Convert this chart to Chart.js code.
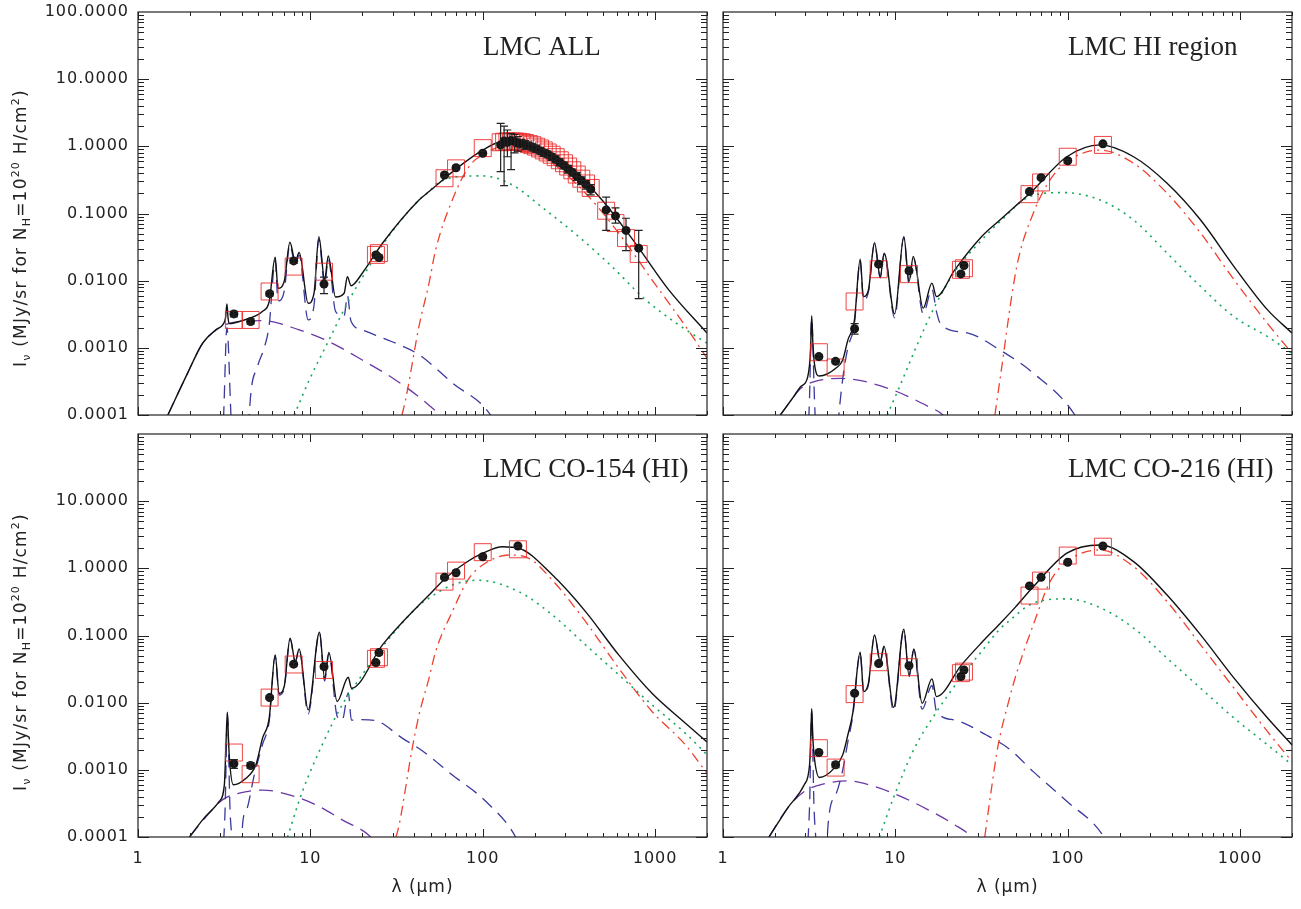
<!DOCTYPE html>
<html>
<head>
<meta charset="utf-8">
<script src="https://cdn.jsdelivr.net/npm/chart.js@4.4.1/dist/chart.umd.min.js"></script>
<style>
body { margin:0; background:#fff; }
#wrap { position:relative; width:1301px; height:909px; overflow:hidden; }
.panel { position:absolute; }
</style>
</head>
<body>
<div id="wrap">
  <div class="panel" style="left:0;top:0"><canvas id="cAll" width="715" height="425"></canvas></div>
  <div class="panel" style="left:715px;top:0"><canvas id="cHi" width="586" height="425"></canvas></div>
  <div class="panel" style="left:0;top:425px"><canvas id="cCoA" width="715" height="484"></canvas></div>
  <div class="panel" style="left:715px;top:425px"><canvas id="cCoB" width="586" height="484"></canvas></div>
</div>
<script>
// wavelengths in micron, intensities in MJy/sr for NH=1e20 H/cm2
const bandX = [3.6, 4.5, 5.8, 8.0, 12, 24, 25, 60, 70, 100, 160];

// ---- LMC ALL ----
const allTotal = [[1.49,1e-4],[1.94,4.2e-4],[2.37,1.17e-3],[2.83,1.85e-3],[3.1,2.2e-3],[3.22,2.8e-3],[3.28,4.5e-3],[3.33,2.8e-3],[3.39,2.3e-3],[4.04,2.55e-3],[4.94,3.1e-3],[5.28,3.5e-3],[5.77,4.9e-3],[6.25,0.0224],[6.49,7.7e-3],[7.05,9.7e-3],[7.61,0.0374],[8.17,0.0192],[8.61,0.0262],[9.71,4.6e-3],[10.5,6.5e-3],[11.2,0.0453],[12.1,0.0103],[12.7,0.0234],[14.0,5.7e-3],[15.7,6.5e-3],[16.4,0.0115],[17.2,8.4e-3],[20,0.0129],[26.2,0.0361],[42.7,0.159],[48.8,0.212],[72.8,0.499],[100,0.88],[130,1.17],[162,1.17],[203,0.99],[316,0.50],[492,0.159],[769,0.036],[1200,7.3e-3],[2000,1.66e-3]];
const allPah = [[3.0,1e-5],[3.14,1e-4],[3.28,2.0e-3],[3.46,1e-4],[3.6,1e-5],[4.3,1e-5],[4.42,1e-4],[4.94,5.3e-4],[5.4,1.0e-3],[5.77,2.2e-3],[6.25,0.0198],[6.49,5e-3],[7.05,7e-3],[7.61,0.034],[8.17,0.017],[8.61,0.024],[9.71,2.6e-3],[10.5,4.3e-3],[11.2,0.042],[12.1,8.5e-3],[12.7,0.021],[14.0,3.5e-3],[15.7,3e-3],[16.4,6e-3],[17.2,2.5e-3],[20,1.85e-3],[26.2,1.4e-3],[31.3,1.17e-3],[42.7,7.9e-4],[66.6,3.0e-4],[111,1e-4],[150,2e-5]];
const allCont = [[1.49,1e-4],[1.94,4.2e-4],[2.37,1.17e-3],[2.83,1.85e-3],[3.1,2.15e-3],[4.04,2.5e-3],[5.28,2.55e-3],[8.61,1.85e-3],[12.8,1.24e-3],[20,6.6e-4],[31.3,3.3e-4],[48.8,1.4e-4],[55.7,1e-4],[65,5e-5]];
const allVsg = [[8.06,1e-4],[9.84,3.3e-4],[12.8,1.3e-3],[16.8,5.2e-3],[21.9,0.0162],[26.2,0.034],[42.7,0.16],[48.8,0.21],[53.3,0.27],[72.8,0.354],[100,0.363],[148,0.267],[231,0.113],[360,0.0453],[562,0.0162],[879,5.2e-3],[1370,2.2e-3],[2000,1.17e-3]];
const allBg = [[34,1e-4],[35.7,1.7e-4],[42.7,2.1e-3],[48.8,9.2e-3],[53.3,0.0287],[66.6,0.159],[83.2,0.50],[104,0.79],[130,0.99],[162,0.99],[253,0.56],[395,0.20],[615,0.051],[959,0.0103],[1500,2.1e-3],[2000,7.0e-4]];
const allObs = [3.2e-3,2.46e-3,6.4e-3,0.0197,8.9e-3,0.0242,0.0221,0.375,0.48,0.79];
const allMod = [2.6e-3,2.6e-3,6.9e-3,0.0162,0.0136,0.0242,0.0257,0.335,0.47,0.94];
const allErr = [[2.9e-3,3.5e-3],[2.25e-3,2.7e-3],[5.9e-3,6.9e-3],[0.018,0.0215],[6.4e-3,0.0113],[0.0225,0.026],[0.0205,0.0238],[0.35,0.40],[0.45,0.51],[0.74,0.84]];
const firasX = [127,133,139,146,153,160,168,176,185,194,204,215,226,238,251,265,280,296,313,331,351,373,397,423,520,589,678,803];
const firasObs = [1.05,1.20,1.15,1.22,1.18,1.12,1.10,1.05,1.02,0.97,0.92,0.86,0.80,0.76,0.70,0.64,0.58,0.52,0.46,0.41,0.36,0.31,0.27,0.23,0.113,0.092,0.056,0.0305];
const firasMod = [1.15,1.17,1.18,1.18,1.18,1.17,1.15,1.12,1.08,1.04,0.99,0.93,0.87,0.81,0.75,0.69,0.62,0.56,0.50,0.44,0.38,0.33,0.28,0.24,0.11,0.072,0.043,0.025];
const firasErr = [[0.42,2.2],[0.26,2.0],[0.70,1.75],[0.45,1.55],[0.80,1.50],[0.85,1.40],[0.95,1.27],[0.90,1.22],[0.90,1.15],[0.86,1.09],[0.82,1.03],[0.77,0.96],[0.71,0.90],[0.68,0.85],[0.62,0.78],[0.57,0.72],[0.51,0.65],[0.46,0.58],[0.40,0.52],[0.36,0.46],[0.31,0.41],[0.27,0.35],[0.23,0.31],[0.19,0.27],[0.056,0.175],[0.072,0.121],[0.028,0.085],[0.0054,0.056]];

// ---- LMC HI region ----
const hiTotal = [[2.15,1e-4],[2.5,1.7e-4],[2.83,2.65e-4],[3.1,3.7e-4],[3.22,9e-4],[3.27,3.0e-3],[3.32,1.2e-3],[3.39,5.9e-4],[3.62,3.8e-4],[4.53,5.0e-4],[4.95,6.6e-4],[5.3,1.3e-3],[5.79,2.6e-3],[6.25,0.0209],[6.52,5.8e-3],[6.98,7.3e-3],[7.57,0.0369],[8.17,0.0115],[8.61,0.0257],[9.9,3.2e-3],[11.2,0.0453],[12.0,9.7e-3],[12.7,0.0229],[14.5,3.9e-3],[16.3,9.2e-3],[17.3,5.8e-3],[22.1,0.0145],[31.6,0.045],[40.4,0.080],[49.4,0.127],[60.4,0.20],[98.8,0.70],[154,1.05],[241,0.70],[377,0.282],[590,0.080],[922,0.0162],[1443,3.67e-3],[2000,1.66e-3]];
const hiPah = [[3.0,1e-5],[3.17,1.5e-4],[3.27,2.7e-3],[3.4,1.5e-4],[3.6,1e-5],[4.4,1e-5],[4.7,1e-4],[5.0,4.2e-4],[5.3,1.0e-3],[5.79,2.3e-3],[6.25,0.020],[6.52,5.2e-3],[6.98,6.8e-3],[7.57,0.036],[8.17,0.011],[8.61,0.025],[9.9,2.8e-3],[11.2,0.044],[12.0,9.0e-3],[12.7,0.022],[14.5,3.2e-3],[16.3,7.5e-3],[17.3,3.5e-3],[18.4,2.2e-3],[26.4,1.66e-3],[40.4,9.3e-4],[63.1,4.2e-4],[110,1e-4],[150,2e-5]];
const hiCont = [[2.15,1e-4],[2.5,1.7e-4],[2.83,2.5e-4],[3.39,3.15e-4],[4.84,3.5e-4],[9.06,2.5e-4],[15.5,1.34e-4],[18.9,1e-4],[22,6e-5]];
const hiVsg = [[8.97,1e-4],[10.8,3e-4],[13.5,1.17e-3],[16.9,4.1e-3],[22.1,0.0136],[31.6,0.040],[40.4,0.0757],[60.4,0.179],[94.2,0.205],[154,0.159],[241,0.080],[377,0.0257],[590,8.2e-3],[922,2.9e-3],[1443,1.47e-3],[2000,8.3e-4]];
const hiBg = [[37.8,1e-4],[40.4,3.3e-4],[50.6,0.0162],[63.1,0.101],[79,0.316],[98.8,0.59],[154,0.88],[241,0.56],[377,0.20],[590,0.051],[922,0.0103],[1443,2.3e-3],[2000,8.3e-4]];
const hiObs = [7.4e-4,6.3e-4,1.92e-3,0.0176,0.014,0.0126,0.0168,0.212,0.342,0.61,1.09];
const hiMod = [8.6e-4,5.1e-4,4.9e-3,0.0148,0.0125,0.0145,0.0153,0.194,0.29,0.70,1.05];
const hiErr = [[6.9e-4,7.9e-4],[5.9e-4,6.7e-4],[1.6e-3,2.3e-3],[0.0165,0.0188],[0.013,0.015],[0.0118,0.0134],[0.0157,0.018],[0.2,0.225],[0.325,0.36],[0.58,0.64],[1.04,1.14]];

// ---- LMC CO-154 (HI) ----
const coATotal = [[1.99,1e-4],[2.37,1.8e-4],[2.96,3.4e-4],[3.17,6.0e-4],[3.24,2.5e-3],[3.30,7.2e-3],[3.35,2.8e-3],[3.39,1.5e-3],[3.57,6.0e-4],[4.23,7.5e-4],[4.83,1.19e-3],[5.28,2.97e-3],[5.77,5.9e-3],[6.25,0.0514],[6.59,0.0138],[7.05,0.0174],[7.63,0.091],[8.17,0.041],[8.61,0.063],[9.71,7.8e-3],[11.3,0.112],[12.1,0.0232],[12.8,0.0557],[14.3,0.0104],[16.6,0.0239],[17.3,0.0164],[26.2,0.0725],[42.7,0.285],[48.8,0.40],[61,0.72],[80,1.22],[100,1.68],[130,2.10],[162,1.99],[253,0.80],[395,0.227],[615,0.0514],[959,0.0138],[1500,4.95e-3],[2000,2.6e-3]];
const coAPah = [[3.0,1e-5],[3.15,1e-4],[3.2,2.5e-4],[3.30,6.8e-3],[3.42,2.5e-4],[3.5,1e-4],[3.7,1e-5],[3.95,1e-5],[4.04,1.5e-4],[4.23,2.4e-4],[4.73,8.4e-4],[5.28,2.4e-3],[5.77,5.3e-3],[6.25,0.050],[6.59,0.013],[7.05,0.0165],[7.63,0.089],[8.17,0.040],[8.61,0.062],[9.71,6.8e-3],[11.3,0.11],[12.1,0.021],[12.8,0.053],[14.3,6.3e-3],[15.3,5.5e-3],[16.6,0.014],[17.3,5.5e-3],[19.5,5.6e-3],[23.9,5.4e-3],[34.1,2.97e-3],[44.6,1.92e-3],[66.6,8.4e-4],[104,3.4e-4],[155,1e-4],[200,2e-5]];
const coACont = [[1.99,1e-4],[2.48,2.0e-4],[3.10,3.6e-4],[3.87,4.5e-4],[5.28,5.0e-4],[7.54,4.25e-4],[10.8,3.0e-4],[15.3,1.8e-4],[21.9,1.05e-4],[26,6e-5]];
const coAVsg = [[7.37,1e-4],[9.0,4.8e-4],[11.7,2.35e-3],[15.3,9.3e-3],[20,0.026],[26.2,0.068],[42.7,0.28],[48.8,0.36],[66.6,0.566],[93.9,0.665],[162,0.45],[253,0.203],[395,0.0725],[615,0.026],[959,9.3e-3],[1500,3.5e-3],[2000,1.67e-3]];
const coABg = [[31.4,1e-4],[32.7,1.5e-4],[39,2.1e-3],[42.7,6.6e-3],[48.8,0.0232],[53.3,0.0577],[66.6,0.227],[83.2,0.71],[104,1.2],[141,1.58],[185,1.41],[253,0.67],[395,0.161],[615,0.0326],[959,7.4e-3],[1500,2.35e-3],[2000,8.9e-4]];
const coAObs = [1.23e-3,1.16e-3,0.0119,0.0374,0.0344,0.0395,0.0557,0.735,0.86,1.49,2.15];
const coAMod = [1.81e-3,8.6e-4,0.0119,0.037,0.0307,0.0449,0.0475,0.634,0.925,1.74,1.92];
const coAErr = [[1.05e-3,1.42e-3],[1.05e-3,1.28e-3],[0.0112,0.0127],[0.035,0.040],[0.032,0.037],[0.037,0.042],[0.052,0.059],[0.69,0.78],[0.81,0.91],[1.42,1.57],[2.05,2.26]];

// ---- LMC CO-216 (HI) ----
const coBTotal = [[1.85,1e-4],[2.37,2.7e-4],[2.96,6.0e-4],[3.18,1.2e-3],[3.23,3.0e-3],[3.27,8.1e-3],[3.32,3.0e-3],[3.39,1.5e-3],[3.62,7.7e-4],[4.42,1.06e-3],[4.95,1.67e-3],[5.30,3.3e-3],[5.66,7.0e-3],[6.25,0.0563],[6.55,0.0146],[6.98,0.0195],[7.57,0.102],[8.17,0.041],[8.59,0.0693],[9.77,8.5e-3],[11.2,0.124],[12.0,0.0253],[12.8,0.063],[14.3,9.8e-3],[16.3,0.0226],[17.3,0.0123],[24.2,0.0365],[31.6,0.078],[40.4,0.15],[49.4,0.26],[63.1,0.53],[98.8,1.68],[154,2.23],[241,1.26],[377,0.40],[590,0.102],[922,0.0232],[1443,5.9e-3],[2000,2.35e-3]];
const coBPah = [[3.0,1e-5],[3.12,1e-4],[3.18,3e-4],[3.27,7.5e-3],[3.37,3e-4],[3.45,1e-4],[3.7,1e-5],[3.95,1e-5],[4.05,1.3e-4],[4.5,4.2e-4],[4.95,1.0e-3],[5.30,2.6e-3],[5.66,6.3e-3],[6.25,0.055],[6.55,0.0138],[6.98,0.0187],[7.57,0.10],[8.17,0.040],[8.59,0.068],[9.77,7.5e-3],[11.2,0.122],[12.0,0.024],[12.8,0.061],[14.3,8e-3],[16.3,0.018],[17.3,7.5e-3],[22.1,5.5e-3],[33.7,3.3e-3],[46.3,2.0e-3],[63.1,9.4e-4],[98.8,3.4e-4],[162,1e-4],[200,3e-5]];
const coBCont = [[1.85,1e-4],[2.37,2.7e-4],[2.96,4.75e-4],[3.70,6.0e-4],[5.30,6.85e-4],[7.57,5.65e-4],[10.8,4.0e-4],[15.5,2.54e-4],[22.1,1.52e-4],[27.7,1e-4],[32,6e-5]];
const coBVsg = [[8.08,1e-4],[9.9,4.25e-4],[12.9,2.1e-3],[16.9,6.6e-3],[24.2,0.0245],[31.6,0.0577],[40.4,0.125],[45.2,0.161],[63.1,0.303],[98.8,0.351],[154,0.26],[241,0.129],[377,0.046],[590,0.0164],[922,5.9e-3],[1443,2.35e-3],[2000,1.19e-3]];
const coBBg = [[33,1e-4],[36,5e-4],[39.5,2.35e-3],[45,0.0095],[50.6,0.028],[63.1,0.144],[79,0.634],[98.8,1.26],[154,1.88],[241,1.06],[377,0.32],[590,0.0725],[922,0.0164],[1443,3.7e-3],[2000,1.33e-3]];
const coBObs = [1.81e-3,1.19e-3,0.0138,0.0382,0.0356,0.0245,0.0307,0.547,0.735,1.23,2.15];
const coBMod = [2.1e-3,1.08e-3,0.0134,0.040,0.0337,0.0275,0.029,0.393,0.656,1.55,2.10];
const coBErr = [[1.7e-3,1.92e-3],[1.08e-3,1.3e-3],[0.013,0.0146],[0.036,0.0405],[0.0335,0.0378],[0.023,0.026],[0.029,0.0325],[0.52,0.575],[0.70,0.77],[1.17,1.29],[2.05,2.26]];

const yTicksTop = [1e-4, 1e-3, 1e-2, 0.1, 1, 10, 100];
const yTicksBot = [1e-4, 1e-3, 1e-2, 0.1, 1, 10];
const xTicks = [1, 10, 100, 1000];

const SANS = '"DejaVu Sans", sans-serif';
const INK = '#222';

function pts(arr) { return arr.map(p => ({x: p[0], y: p[1]})); }
function zip(xs, ys) { return xs.map((x, i) => ({x: x, y: ys[i]})); }

function curve(data, color, dash, w) {
    return {data: pts(data), borderColor: color, borderDash: dash, borderWidth: w,
        pointRadius: 0, showLine: true, cubicInterpolationMode: 'monotone', fill: false};
}

// y axis title with sub/superscripts
function drawYLabel(ctx, cx, cy) {
    const big = '17px ' + SANS, small = '11px ' + SANS;
    const parts = [['I', 0, big], ['\u03bd', 5, small], [' (MJy/sr for N', 0, big], ['H', 5, small],
        ['=10', 0, big], ['20', -6, small], [' H/cm', 0, big], ['2', -6, small], [')', 0, big]];
    ctx.save();
    ctx.letterSpacing = '1.2px';
    let w = 0;
    parts.forEach(p => { ctx.font = p[2]; w += ctx.measureText(p[0]).width; });
    ctx.translate(cx, cy);
    ctx.rotate(-Math.PI / 2);
    ctx.textBaseline = 'middle';
    ctx.fillStyle = INK;
    let xx = -w / 2;
    parts.forEach(p => { ctx.font = p[2]; ctx.fillText(p[0], xx, p[1]); xx += ctx.measureText(p[0]).width; });
    ctx.restore();
}

const deco = {
    id: 'deco',
    beforeDraw(chart) {
        chart.ctx.letterSpacing = '1px';
    },
    afterDatasetsDraw(chart) {
        // error bars
        const {ctx, scales: {x, y}} = chart;
        ctx.save();
        ctx.strokeStyle = INK;
        ctx.lineWidth = 1.2;
        chart.data.datasets.forEach(ds => {
            if (!ds.errs) return;
            ds.data.forEach((p, i) => {
                const e = ds.errs[i];
                if (!e) return;
                const px = x.getPixelForValue(p.x);
                const y1 = y.getPixelForValue(e[0]), y2 = y.getPixelForValue(e[1]);
                ctx.beginPath();
                ctx.moveTo(px, y1); ctx.lineTo(px, y2);
                ctx.moveTo(px - 4, y1); ctx.lineTo(px + 4, y1);
                ctx.moveTo(px - 4, y2); ctx.lineTo(px + 4, y2);
                ctx.stroke();
            });
        });
        ctx.restore();
    },
    afterDraw(chart, args, o) {
        const {ctx, chartArea: a, scales: {x, y}} = chart;
        ctx.save();
        ctx.letterSpacing = '0px';
        ctx.strokeStyle = INK;
        ctx.lineWidth = 1.2;
        ctx.strokeRect(a.left, a.top, a.right - a.left, a.bottom - a.top);
        ctx.lineWidth = 1;
        ctx.beginPath();
        for (let d = 1; d <= 1000; d *= 10) {
            for (let m = 1; m < 10; m++) {
                const v = m * d;
                if (v > 2000) break;
                const px = Math.round(x.getPixelForValue(v)) + 0.5;
                const len = m === 1 ? 8 : 4;
                ctx.moveTo(px, a.bottom); ctx.lineTo(px, a.bottom - len);
                ctx.moveTo(px, a.top); ctx.lineTo(px, a.top + len);
            }
        }
        for (let d = 1e-4; d < 99; d *= 10) {
            for (let m = 1; m < 10; m++) {
                const v = m * d;
                const py = Math.round(y.getPixelForValue(v)) + 0.5;
                const len = m === 1 ? 11 : 6;
                ctx.moveTo(a.left, py); ctx.lineTo(a.left + len, py);
                ctx.moveTo(a.right, py); ctx.lineTo(a.right - len, py);
            }
        }
        ctx.stroke();
        ctx.fillStyle = INK;
        ctx.font = '27px "Liberation Serif", serif';
        ctx.textBaseline = 'alphabetic';
        ctx.fillText(o.title, a.left + 345, a.top + 43);
        if (o.ylab) drawYLabel(ctx, 22, o.ylabY);
        ctx.restore();
    }
};

function makePanel(id, p) {
    const datasets = [
        {data: p.obs, errs: p.errs, showLine: false, pointStyle: 'circle', pointRadius: 4.5,
            pointBackgroundColor: '#151515', pointBorderColor: '#151515', pointBorderWidth: 0},
        {data: p.mod, showLine: false, pointStyle: 'rect', pointRadius: 12,
            pointBackgroundColor: 'rgba(0,0,0,0)', pointBorderColor: 'rgba(235,35,35,0.85)', pointBorderWidth: 1},
        curve(p.total, '#111', [], 1.4),
        curve(p.vsg, '#17a85a', [2, 5], 1.6),
        curve(p.bg, '#f0402e', [10, 5, 2, 5], 1.3),
        curve(p.pah, '#3a3a9c', [13, 8], 1.3),
        curve(p.cont, '#6a38a6', [14, 8], 1.3)
    ];
    new Chart(document.getElementById(id), {
        type: 'line',
        data: {datasets: datasets},
        options: {
            responsive: false,
            animation: false,
            layout: {padding: p.pad, autoPadding: false},
            plugins: {legend: {display: false}, tooltip: {enabled: false},
                deco: {title: p.title, ylab: p.left, ylabY: p.ylabY}},
            scales: {
                x: {
                    type: 'logarithmic', min: 1, max: 2000, display: p.bottom,
                    afterBuildTicks: s => { s.ticks = xTicks.map(v => ({value: v})); },
                    afterFit: s => {
                        if (!p.bottom) return;
                        s.height = 72; s.paddingLeft = 0; s.paddingRight = 0;
                    },
                    grid: {display: false, drawTicks: false}, border: {display: false},
                    ticks: {callback: v => String(v), font: {family: SANS, size: 16}, color: INK,
                        padding: 12, maxRotation: 0, autoSkip: false},
                    title: {display: true, text: '\u03bb (\u03bcm)', font: {family: SANS, size: 17}, color: INK,
                        padding: {top: 0, bottom: 11}}
                },
                y: {
                    type: 'logarithmic', min: 1e-4, max: 100, display: p.left,
                    afterBuildTicks: s => { s.ticks = p.yTicks.map(v => ({value: v})); },
                    afterFit: s => {
                        if (!p.left) return;
                        s.width = 138; s.paddingTop = 0; s.paddingBottom = 0;
                    },
                    grid: {display: false, drawTicks: false}, border: {display: false},
                    ticks: {callback: v => v.toFixed(4), font: {family: SANS, size: 16}, color: INK,
                        padding: 9, autoSkip: false}
                }
            }
        },
        plugins: [deco]
    });
}

makePanel('cAll', {
    title: 'LMC ALL', left: true, bottom: false, yTicks: yTicksTop, ylabY: 228,
    pad: {left: 0, right: 8, top: 12, bottom: 10},
    obs: zip(bandX.slice(0, 10), allObs).concat(zip(firasX, firasObs)),
    errs: allErr.concat(firasErr),
    mod: zip(bandX.slice(0, 10), allMod).concat(zip(firasX, firasMod)),
    total: allTotal, pah: allPah, cont: allCont, vsg: allVsg, bg: allBg
});
makePanel('cHi', {
    title: 'LMC HI region', left: false, bottom: false, yTicks: yTicksTop,
    pad: {left: 8, right: 9, top: 12, bottom: 10},
    obs: zip(bandX, hiObs), errs: hiErr, mod: zip(bandX, hiMod),
    total: hiTotal, pah: hiPah, cont: hiCont, vsg: hiVsg, bg: hiBg
});
makePanel('cCoA', {
    title: 'LMC CO-154 (HI)', left: true, bottom: true, yTicks: yTicksBot, ylabY: 227,
    pad: {left: 0, right: 8, top: 9, bottom: 0},
    obs: zip(bandX, coAObs), errs: coAErr, mod: zip(bandX, coAMod),
    total: coATotal, pah: coAPah, cont: coACont, vsg: coAVsg, bg: coABg
});
makePanel('cCoB', {
    title: 'LMC CO-216 (HI)', left: false, bottom: true, yTicks: yTicksBot,
    pad: {left: 8, right: 9, top: 9, bottom: 0},
    obs: zip(bandX, coBObs), errs: coBErr, mod: zip(bandX, coBMod),
    total: coBTotal, pah: coBPah, cont: coBCont, vsg: coBVsg, bg: coBBg
});
</script>
</body>
</html>
